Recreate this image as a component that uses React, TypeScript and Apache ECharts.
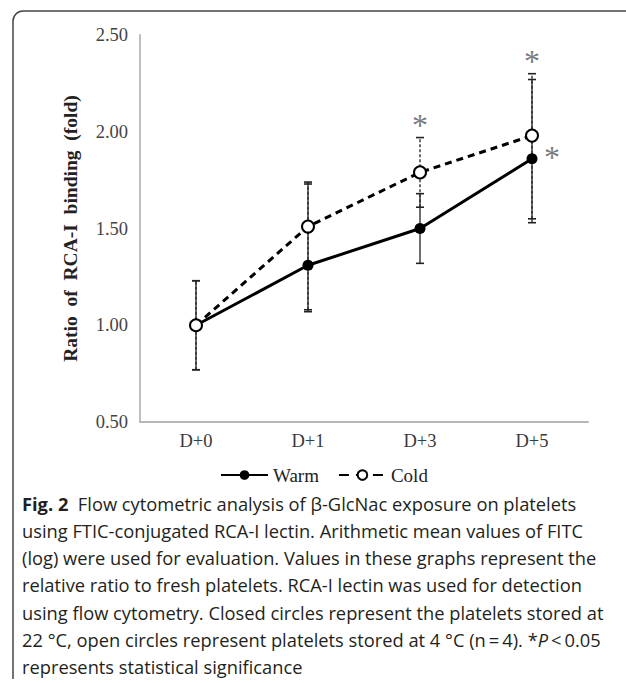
import React, { useEffect, useRef } from "react";
import * as echarts from "echarts";

const categories = ["D+0", "D+1", "D+3", "D+5"];
const yTicks = [0.5, 1.0, 1.5, 2.0, 2.5];
const warmValues = [1.0, 1.31, 1.5, 1.86];
const coldValues = [1.0, 1.51, 1.79, 1.98];
const warmLow = [0.77, 1.07, 1.32, 1.53];
const warmHigh = [1.23, 1.73, 1.68, 2.27];
const coldLow = [0.77, 1.08, 1.61, 1.55];
const coldHigh = [1.23, 1.74, 1.97, 2.3];
const starCats = ["D+3", "D+5", "D+5"];
const starValues = [2.07, 2.4, 1.905];
const legendNames = ["Warm", "Cold"];
const yAxisTitle = "Ratio  of  RCA-I  binding  (fold)";
const captionLines = [
  "{b|Fig. 2}  Flow cytometric analysis of β-GlcNac exposure on platelets",
  "using FTIC-conjugated RCA-I lectin. Arithmetic mean values of FITC",
  "(log) were used for evaluation. Values in these graphs represent the",
  "relative ratio to fresh platelets. RCA-I lectin was used for detection",
  "using flow cytometry. Closed circles represent the platelets stored at",
  "22 °C, open circles represent platelets stored at 4 °C (n\u2009=\u20094). *{i|P}\u2009<\u20090.05",
  "represents statistical significance",
];

const SERIF = "'Liberation Serif', 'Times New Roman', serif";
const SANS = "'Open Sans', 'Noto Sans', sans-serif";

function errorBarSeries(name: string, low: number[], high: number[], dashed: boolean) {
  return {
    type: "custom",
    name: name + "-err",
    z: 3,
    silent: true,
    data: categories.map((_, i) => [i, low[i], high[i]]),
    encode: { x: 0, y: [1, 2] },
    renderItem: (params: any, api: any) => {
      const x = api.value(0);
      const lo = api.coord([x, api.value(1)]);
      const hi = api.coord([x, api.value(2)]);
      const w = 4;
      const lineStyle: any = { stroke: "#222", lineWidth: 1.3 };
      if (dashed) lineStyle.lineDash = [3, 2];
      const capStyle = { stroke: "#222", lineWidth: 1.6 };
      return {
        type: "group",
        children: [
          { type: "line", shape: { x1: lo[0], y1: lo[1], x2: hi[0], y2: hi[1] }, style: lineStyle },
          { type: "line", shape: { x1: lo[0] - w, y1: lo[1], x2: lo[0] + w, y2: lo[1] }, style: capStyle },
          { type: "line", shape: { x1: hi[0] - w, y1: hi[1], x2: hi[0] + w, y2: hi[1] }, style: capStyle },
        ],
      };
    },
  };
}

export default function App() {
  const ref = useRef<HTMLDivElement>(null);
  useEffect(() => {
    if (!ref.current) return;
    const chart = echarts.init(ref.current, undefined, { renderer: "svg" });
    const starOffsets = [0, 0, 20];
    const starFont = 32;
    const captionTop = 503;
    const captionStep = 27.3;
    const captionFont = 18.3;
    const option: any = {
      animation: false,
      grid: { left: 140, right: 38, top: 35, bottom: 261 },
      xAxis: {
        type: "category",
        data: categories,
        axisLine: { lineStyle: { color: "#b8b8b8", width: 1.8 } },
        axisTick: { show: false },
        axisLabel: { color: "#3a3a3a", fontFamily: SERIF, fontSize: 18.5, margin: 9 },
      },
      yAxis: {
        type: "value",
        min: yTicks[0],
        max: yTicks[yTicks.length - 1],
        interval: 0.5,
        name: yAxisTitle,
        nameLocation: "middle",
        nameGap: 60,
        nameTextStyle: { fontFamily: SERIF, fontWeight: "bold", fontSize: 19.5, color: "#222" },
        axisLine: { show: true, lineStyle: { color: "#b8b8b8", width: 1.8 } },
        axisTick: { show: false },
        splitLine: { show: false },
        axisLabel: {
          formatter: (v: number) => v.toFixed(2),
          color: "#444",
          fontFamily: SERIF,
          fontSize: 18.5,
          margin: 12,
        },
      },
      legend: {
        data: [
          { name: legendNames[0] },
          { name: legendNames[1], lineStyle: { type: [10, 7] } },
        ],
        left: 220,
        top: 465,
        padding: 0,
        itemWidth: 47,
        itemHeight: 12,
        itemGap: 19,
        textStyle: { fontFamily: SERIF, fontSize: 19, color: "#222", lineHeight: 20 },
      },
      series: [
        errorBarSeries("Warm", warmLow, warmHigh, false),
        errorBarSeries("Cold", coldLow, coldHigh, true),
        {
          type: "line",
          name: legendNames[0],
          data: warmValues,
          z: 5,
          symbol: "circle",
          symbolSize: 11,
          lineStyle: { color: "#000", width: 3 },
          itemStyle: { color: "#000" },
        },
        {
          type: "line",
          name: legendNames[1],
          data: coldValues,
          z: 6,
          symbol: "circle",
          symbolSize: 12,
          lineStyle: { color: "#000", width: 3, type: [7, 5] },
          itemStyle: { color: "#fff", borderColor: "#000", borderWidth: 2 },
        },
        {
          type: "custom",
          name: "stars",
          z: 7,
          silent: true,
          data: starCats.map((c, i) => [categories.indexOf(c), starValues[i], i]),
          encode: { x: 0, y: 1 },
          renderItem: (params: any, api: any) => {
            const p = api.coord([api.value(0), api.value(1)]);
            const idx = api.value(2);
            return {
              type: "text",
              x: p[0] + starOffsets[idx],
              y: p[1] + starFont * 0.2,
              style: {
                text: "*",
                fontFamily: SERIF,
                fontSize: starFont,
                fill: "#7a7a7a",
                align: "center",
                verticalAlign: "middle",
              },
            };
          },
        },
      ],
      graphic: [
        {
          type: "line",
          shape: { x1: 13, y1: 21, x2: 13, y2: 679 },
          style: { stroke: "#444", lineWidth: 1.5 },
        },
        {
          type: "arc",
          shape: { cx: 23, cy: 21, r: 10, startAngle: Math.PI, endAngle: Math.PI * 1.5 },
          style: { stroke: "#444", lineWidth: 1.5, fill: "none" },
        },
        {
          type: "line",
          shape: { x1: 23, y1: 11, x2: 626, y2: 11 },
          style: { stroke: "#444", lineWidth: 1.5 },
        },
        ...captionLines.map((t, i) => ({
          type: "text",
          x: 22,
          y: captionTop + i * captionStep,
          style: {
            text: t,
            fontFamily: SANS,
            fontSize: captionFont,
            fill: "#231f20",
            verticalAlign: "middle",
            rich: {
              b: { fontFamily: SANS, fontSize: captionFont, fontWeight: "bold", fill: "#231f20" },
              i: { fontFamily: SANS, fontSize: captionFont, fontStyle: "italic", fill: "#231f20" },
            },
          },
        })),
      ],
    };
    chart.setOption(option);
    return () => chart.dispose();
  }, []);
  return (
    <div
      ref={ref}
      style={{ position: "fixed", left: 0, top: 0, width: 626, height: 683, background: "#fff" }}
    />
  );
}
